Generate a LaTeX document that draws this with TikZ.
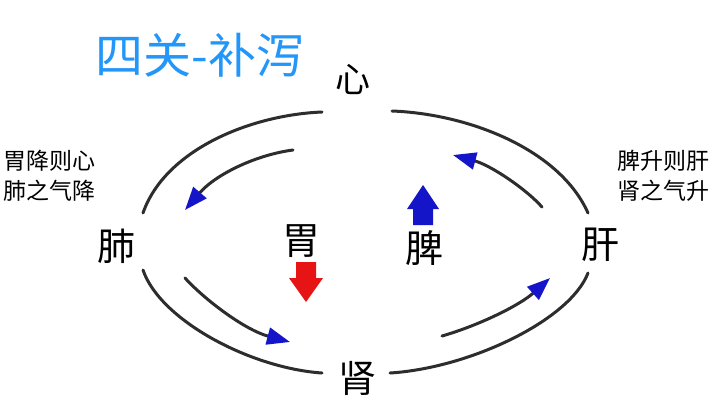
\documentclass[tikz,border=0pt]{standalone}
\usepackage{fontspec}
\setmainfont{Noto Sans CJK SC}
\usetikzlibrary{arrows.meta}
\definecolor{titleblue}{RGB}{35,150,250}
\definecolor{arrowblue}{RGB}{20,20,200}
\definecolor{arrowred}{RGB}{230,20,20}
\definecolor{linegray}{RGB}{45,45,45}
\begin{document}
\begin{tikzpicture}[x=1pt,y=-1pt,
  organ/.style={font=\fontsize{38}{38}\selectfont, text=black, inner sep=0pt},
  note/.style={font=\fontsize{23}{30}\selectfont, align=left, inner sep=0pt, text=black},
  outerarc/.style={draw=linegray, line width=3pt, line cap=round},
  innerarc/.style={draw=linegray, line width=3pt, line cap=round,
    -{Triangle[length=23pt,width=17pt,color=arrowblue]}},
]
\useasboundingbox[fill=white] (0,0) rectangle (711,413);

% title
\node[font=\fontsize{48}{48}\selectfont, text=titleblue, inner sep=0pt] (title) at (200,55) {四关-补泻};

% organs
\node[organ, font=\fontsize{35}{35}\selectfont] (xin) at (353,79) {心};
\node[organ] (fei) at (116,246) {肺};
\node[organ] (wei) at (301,241) {胃};
\node[organ] (pi) at (424,248) {脾};
\node[organ] (gan) at (600,245) {肝};
\node[organ] (shen) at (357,378) {肾};

% notes
\node[note, anchor=west] (noteL) at (3,176) {胃降则心\\肺之气降};
\node[note, anchor=east] (noteR) at (710,176) {脾升则肝\\肾之气升};

% endpoints
\coordinate (tlA) at (322,112); \coordinate (tlB) at (143,213);
\coordinate (tla) at (293,150); \coordinate (tlb) at (185,210);
\coordinate (trA) at (392,111); \coordinate (trB) at (588,213);
\coordinate (tra) at (542,207); \coordinate (trb) at (453,155);
\coordinate (blA) at (143,270); \coordinate (blB) at (322,373);
\coordinate (bla) at (185,278); \coordinate (blb) at (290,342);
\coordinate (brA) at (390,373); \coordinate (brB) at (588,273);
\coordinate (bra) at (442,336); \coordinate (brb) at (550,278);

% outer arcs
\draw[outerarc] (tlA) .. controls (250,115) and (165,150) .. (tlB);
\draw[outerarc] (trA) .. controls (470,114) and (560,150) .. (trB);
\draw[outerarc] (blA) .. controls (160,320) and (250,368) .. (blB);
\draw[outerarc] (brA) .. controls (470,368) and (570,320) .. (brB);

% inner arcs with arrowheads
\draw[innerarc] (tla) .. controls (255,155) and (215,175) .. (tlb);
\draw[innerarc] (tra) .. controls (525,188) and (490,165) .. (trb);
\draw[innerarc] (bla) .. controls (205,300) and (245,330) .. (blb);
\draw[innerarc] (bra) .. controls (480,325) and (520,305) .. (brb);

% block arrows
\fill[arrowred] (296,262) -- (316,262) -- (316,278) -- (323,278) -- (306,302) -- (289,278) -- (296,278) -- cycle;
\fill[arrowblue] (413,225) -- (433,225) -- (433,209) -- (439,209) -- (423,185) -- (407,209) -- (413,209) -- cycle;
\end{tikzpicture}
\end{document}
